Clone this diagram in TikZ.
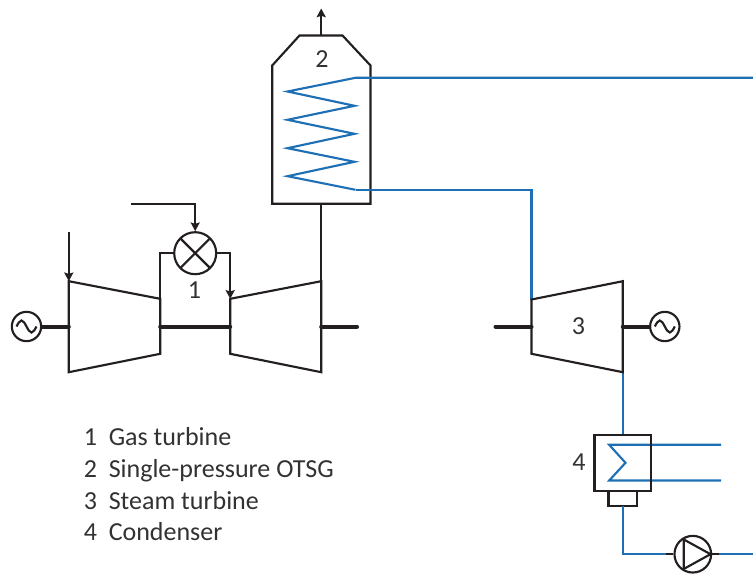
\documentclass[tikz,border=0pt]{standalone}
\usepackage{fontspec}
\setmainfont{Carlito}
\usetikzlibrary{positioning,arrows.meta}
\definecolor{colorline}{RGB}{ 35, 31, 32}
\definecolor{colorsteam}{RGB}{ 31,111,181}
\definecolor{colortext}{RGB}{ 50, 50, 50}

\begin{document}
\begin{tikzpicture}[
    x=0.75pt, y=-0.75pt, >={Stealth[length=6.5pt,width=6.8pt,inset=1pt]},
    base/.style={color=colorline,line width=1.6pt,line join=miter},
    thin line/.style={color=colorline,line width=1.3pt},
    shaft/.style={color=colorline,line width=3pt,line cap=round},
    steam/.style={color=colorsteam,line width=1.6pt},
    txt/.style={text=colortext,font={\fontsize{19.5}{23}\selectfont},inner sep=0pt},
    legend/.style={txt,anchor=base west},
    generator/.style={circle,base,draw,fill=white,inner sep=0pt,minimum size=22pt,
        path picture={\draw[base] (path picture bounding box.center) ++(-10,0)
            sin ++(5,-6) cos ++(5,6) sin ++(5,6) cos ++(5,-6);}},
    burner/.style={circle,base,draw,fill=white,inner sep=0pt,minimum size=31.5pt,
        path picture={\draw[base]
            (path picture bounding box.south west) -- (path picture bounding box.north east)
            (path picture bounding box.north west) -- (path picture bounding box.south east);}},
    pump/.style={circle,base,draw,inner sep=0pt,minimum size=27.5pt},
]

    \useasboundingbox (-0.5,-0.5) rectangle (752.5,573.5);

    % gas turbine
    \coordinate (compA) at (68.3,280.7);
    \coordinate (compB) at (159.7,298.3);
    \coordinate (compC) at (159.7,353.3);
    \coordinate (compD) at (68.3,371.7);
    \coordinate (turbA) at (229.7,298.3);
    \coordinate (turbB) at (320.7,280.7);
    \coordinate (turbC) at (320.7,371.7);
    \coordinate (turbD) at (229.7,353.3);
    \draw[base] (compA) -- (compB) -- (compC) -- (compD) -- cycle;
    \draw[base] (turbA) -- (turbB) -- (turbC) -- (turbD) -- cycle;

    \node[generator] (gen1)    at (26,326)      {};
    \node[burner]    (burner1) at (194.7,252.7) {};
    \node[txt]       (num1)    at (194,290)     {1};

    \coordinate (air)  at (68.3,231);
    \coordinate (fuel) at (130.7,203.3);
    \coordinate (shaftR) at (356.5,326);

    \draw[shaft] (gen1) -- (68.3,326);
    \draw[shaft] (159.7,326) -- (229.7,326);
    \draw[shaft] (320.7,326) -- (shaftR);

    \draw[thin line,->] (air) -- (compA);
    \draw[thin line,->] (fuel) -| (burner1);
    \draw[thin line] (burner1) -| (compB);
    \draw[thin line,->] (burner1) -| (turbA);

    % OTSG
    \coordinate (otsgA) at (271.7,203.3);
    \coordinate (otsgB) at (271.7,65);
    \coordinate (otsgC) at (299,35);
    \coordinate (otsgD) at (342,35);
    \coordinate (otsgE) at (370,65);
    \coordinate (otsgF) at (370,203.3);
    \coordinate (stack) at (320.7,8);
    \draw[base] (otsgA) -- (otsgB) -- (otsgC) -- (otsgD) -- (otsgE) -- (otsgF) -- cycle;
    \node[txt] (num2) at (321.5,59) {2};

    \draw[thin line,->] (320.7,35) -- (stack);
    \draw[thin line] (320.7,203.3) -- (turbB);

    \coordinate (coilTop) at (355,77.3);
    \coordinate (coilBot) at (355,189.3);
    \coordinate (hpOut)   at (753,77.3);
    \draw[steam] (hpOut) -- (coilTop) -- (287,91) -- (354,105.3) -- (287,119.3) -- (354,133.3)
        -- (287,147.7) -- (354,161.3) -- (287,175.7) -- (coilBot);

    % steam turbine
    \coordinate (stA) at (531,299);
    \coordinate (stB) at (622.3,280.7);
    \coordinate (stC) at (622.3,371.7);
    \coordinate (stD) at (531,353.3);
    \draw[steam] (coilBot) -| (stA);
    \draw[steam] (stC) -- (622.3,434.7);
    \draw[base] (stA) -- (stB) -- (stC) -- (stD) -- cycle;
    \node[txt] (num3) at (578,326) {3};
    \node[generator] (gen2) at (664.3,326) {};
    \coordinate (shaftL) at (495,326);
    \draw[shaft] (shaftL) -- (531,326);
    \draw[shaft] (622.3,326) -- (gen2);

    % condenser
    \coordinate (condHot) at (622.3,505.3);
    \coordinate (cwIn)  at (720.7,444.3);
    \coordinate (cwOut) at (720.7,480);
    \draw[steam] (cwIn) -- (608.7,444.3) -- (625,462.3) -- (608.7,480) -- (cwOut);
    \draw[base] (594,434.7) rectangle (650.3,490.7);
    \draw[base] (608,490.7) rectangle (636.7,505.3);
    \node[txt] (num4) at (578.5,462) {4};

    % pump
    \coordinate (pumpIn)  at (665,553.7);
    \coordinate (pumpOut) at (718.3,553.7);
    \coordinate (feedOut) at (753,553.7);
    \node[pump] (pump1) at (692.3,553.7) {};
    \draw[steam] (condHot) |- (pumpIn);
    \draw[steam] (pumpOut) -- (feedOut);
    \draw[base] (pumpIn) -- (pump1);
    \draw[base] (pump1) -- (pumpOut);
    \draw[base] (683.3,539) -- (710,553.7) -- (683.3,568.4) -- cycle;

    % key
    \node[legend] (key1) at (83,445) {\makebox[18.75pt][l]{1}Gas turbine};
    \node[legend] (key2) at (83,477) {\makebox[18.75pt][l]{2}Single-pressure OTSG};
    \node[legend] (key3) at (83,509) {\makebox[18.75pt][l]{3}Steam turbine};
    \node[legend] (key4) at (83,540) {\makebox[18.75pt][l]{4}Condenser};

\end{tikzpicture}
\end{document}
